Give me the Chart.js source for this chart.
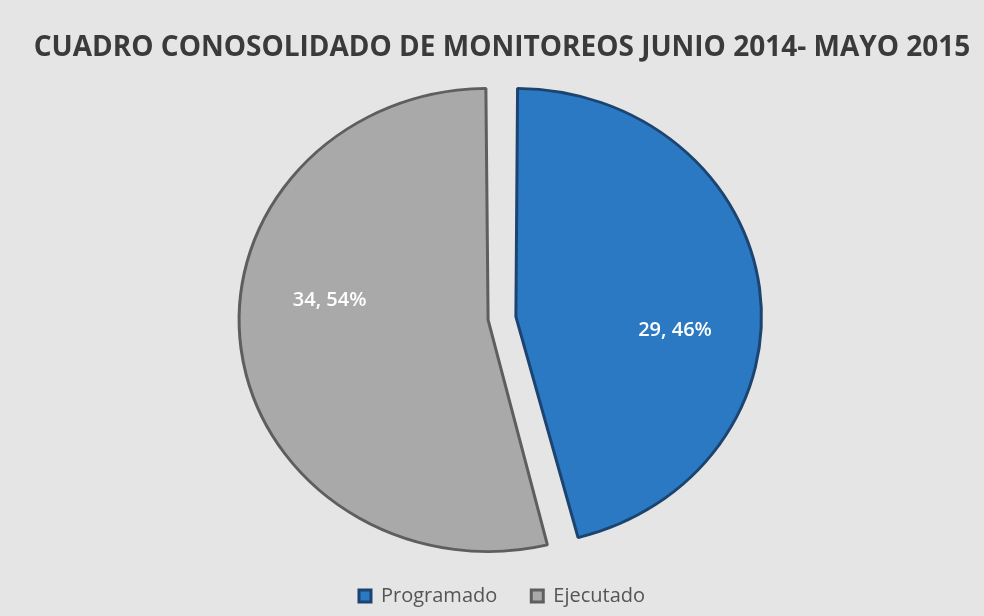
<!DOCTYPE html>
<html>
<head>
<meta charset="utf-8">
<script src="https://cdn.jsdelivr.net/npm/chart.js@4.4.0/dist/chart.umd.min.js"></script>
<style>
  html, body { margin: 0; padding: 0; background: #e5e5e5; }
  #wrap { width: 984px; height: 616px; position: relative; }
</style>
</head>
<body>
<div id="wrap"><canvas id="pie"></canvas></div>
<script>
// Données
var categories = ['Programado', 'Ejecutado'];
var values = [29, 34];
var percents = [46, 54];
var colors = ['#2b78c3', '#a9a9a9'];
var borders = ['#1c4470', '#5e5e5e'];

var SQUASH = 0.93; // le camembert de l'original est un peu aplati

// aplatir verticalement le dessin des parts
var squashPlugin = {
  id: 'squash',
  beforeDatasetsDraw: function(chart) {
    var a = chart.chartArea;
    var cy = (a.top + a.bottom) / 2;
    chart.ctx.save();
    chart.ctx.translate(0, cy);
    chart.ctx.scale(1, SQUASH);
    chart.ctx.translate(0, -cy);
  },
  afterDatasetsDraw: function(chart) {
    chart.ctx.restore();
  }
};

// étiquettes "valeur, pourcentage" dans chaque part
var labelPlugin = {
  id: 'sliceLabels',
  afterDatasetsDraw: function(chart) {
    var ctx = chart.ctx;
    var meta = chart.getDatasetMeta(0);
    var a = chart.chartArea;
    var cy = (a.top + a.bottom) / 2;
    ctx.save();
    ctx.font = '600 20px "Open Sans"';
    ctx.fillStyle = '#ffffff';
    ctx.textAlign = 'center';
    ctx.textBaseline = 'middle';
    meta.data.forEach(function(arc, i) {
      var half = (arc.startAngle + arc.endAngle) / 2;
      var off = (arc.options.offset || 0) / 4;
      var ox = arc.x + Math.cos(half) * off;
      var oy = arc.y + Math.sin(half) * off;
      var ang = arc.startAngle + (arc.endAngle - arc.startAngle) * 0.575;
      var r = arc.outerRadius * 0.68;
      var x = ox + Math.cos(ang) * r;
      var y = oy + Math.sin(ang) * r;
      y = cy + (y - cy) * SQUASH;
      ctx.fillText(values[i] + ', ' + percents[i] + '%', x, y);
    });
    ctx.restore();
  }
};

var ctx = document.getElementById('pie').getContext('2d');
new Chart(ctx, {
  type: 'pie',
  data: {
    labels: categories,
    datasets: [{
      data: values,
      backgroundColor: colors,
      borderColor: borders,
      borderWidth: 3,
      offset: 56,
      radius: 235
    }]
  },
  options: {
    responsive: true,
    maintainAspectRatio: false,
    animation: false,
    layout: { padding: { left: 20, right: 0, top: 15, bottom: 0 } },
    plugins: {
      title: {
        display: true,
        text: 'CUADRO CONOSOLIDADO DE MONITOREOS JUNIO 2014- MAYO 2015',
        color: '#3a3a3a',
        font: { family: '"Open Sans"', size: 28, weight: 'bold' },
        padding: { top: 16, bottom: 20 }
      },
      legend: {
        position: 'bottom',
        labels: {
          color: '#555555',
          font: { family: '"Open Sans"', size: 20 },
          boxWidth: 12,
          boxHeight: 12,
          padding: 34
        }
      },
      tooltip: { enabled: false }
    }
  },
  plugins: [squashPlugin, labelPlugin]
});
</script>
</body>
</html>
